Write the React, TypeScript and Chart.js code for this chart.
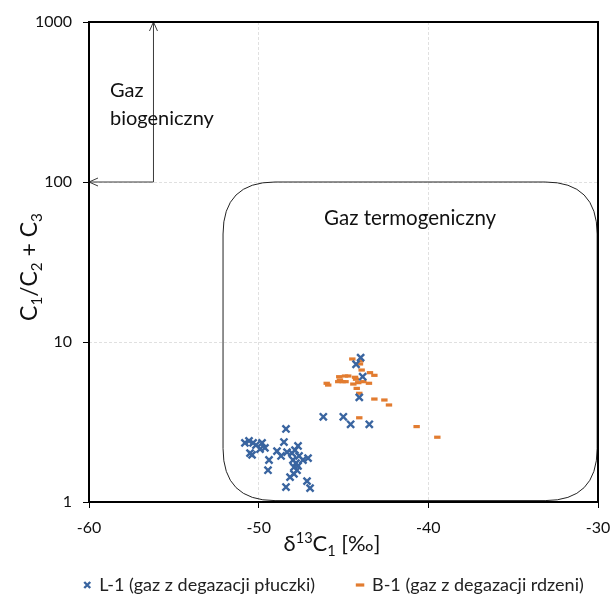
import React, { useEffect, useRef } from 'react';
import { Chart, registerables } from 'chart.js';

Chart.register(...registerables);

// ---- data ----
const seriesNames = ['L-1 (gaz z degazacji płuczki)', 'B-1 (gaz z degazacji rdzeni)'];

const l1X = [-48.39, -48.51, -50.81, -50.57, -50.33, -50.16, -49.8, -49.63, -49.92, -50.51, -50.39, -49.39, -49.45, -48.92, -48.68, -48.33, -48.04, -47.68, -47.86, -47.98, -47.8, -47.92, -47.74, -47.68, -47.39, -47.09, -48.15, -48.39, -47.15, -46.97, -47.62, -47.92, -46.19, -45.01, -44.58, -43.48, -43.99, -44.26, -43.87, -44.07];
const l1Y = [2.86, 2.37, 2.34, 2.41, 2.34, 2.27, 2.34, 2.18, 2.14, 2.02, 1.97, 1.83, 1.58, 2.08, 1.94, 2.05, 2.02, 2.24, 2.11, 1.83, 1.75, 1.65, 1.58, 1.68, 1.83, 1.88, 1.43, 1.24, 1.35, 1.22, 1.94, 1.5, 3.41, 3.41, 3.06, 3.06, 7.98, 7.26, 6.07, 4.51];

const b1X = [-44.48, -43.99, -44.03, -43.93, -43.44, -43.18, -45.99, -45.9, -45.25, -45.21, -45.31, -44.91, -44.72, -45.05, -44.88, -44.32, -44.42, -44.26, -44.13, -43.83, -43.5, -44.22, -44.07, -43.18, -42.59, -42.32, -44.07, -40.69, -39.47];
const b1Y = [7.83, 7.64, 7.29, 6.68, 6.43, 6.19, 5.52, 5.38, 6.07, 5.79, 5.65, 6.13, 6.13, 5.65, 5.65, 6.02, 5.46, 5.85, 5.57, 5.65, 5.52, 5.13, 4.78, 4.4, 4.34, 4.04, 3.36, 2.96, 2.54];

const xTicks = [-60, -50, -40, -30];
const yTicks = [1, 10, 100, 1000];

// annotation regions (data coordinates)
const bioCornerX = -56.2;
const bioCornerY = 100;
const bioTopY = 1000;
const thermoXMin = -52.1;
const thermoXMax = -30.05;
const thermoYMin = 1.02;
const thermoYMax = 100;

const FONT = "Lato, 'Open Sans', sans-serif";
const BLUE = '#3a65a0';
const ORANGE = '#e27c30';

type Seg = { t: string; mode?: 'sub' | 'sup' };

function richWidth(ctx: CanvasRenderingContext2D, segs: Seg[], size: number) {
  let w = 0;
  for (const s of segs) {
    const sz = s.mode ? size * 0.66 : size;
    ctx.font = `${sz}px ${FONT}`;
    w += ctx.measureText(s.t).width;
  }
  return w;
}

function drawRich(ctx: CanvasRenderingContext2D, segs: Seg[], size: number, cx: number, baseY: number) {
  const total = richWidth(ctx, segs, size);
  let x = cx - total / 2;
  ctx.textBaseline = 'alphabetic';
  ctx.textAlign = 'left';
  for (const s of segs) {
    const sz = s.mode ? size * 0.66 : size;
    ctx.font = `${sz}px ${FONT}`;
    const dy = s.mode === 'sub' ? size * 0.22 : s.mode === 'sup' ? -size * 0.36 : 0;
    ctx.fillText(s.t, x, baseY + dy);
    x += ctx.measureText(s.t).width;
  }
}

const overlayPlugin = {
  id: 'overlay',
  afterLayout(chart: any) {
    const lg = chart.legend;
    if (lg) {
      lg.left += 35;
      lg.right += 35;
      lg.top += 4;
      lg.bottom += 4;
    }
    const xs = chart.scales.x;
    if (xs) {
      // give tick labels room (they are clipped to the scale box)
      xs.bottom = xs.top + 40;
      xs.height = 40;
    }
  },
  beforeDatasetsDraw(chart: any) {
    const ctx: CanvasRenderingContext2D = chart.ctx;
    const xs = chart.scales.x;
    const ys = chart.scales.y;
    ctx.save();
    const cx = xs.getPixelForValue(bioCornerX);
    const cy = ys.getPixelForValue(bioCornerY);
    const ty = ys.getPixelForValue(bioTopY);
    const lx = xs.getPixelForValue(-60);
    ctx.strokeStyle = '#3a3a3a';
    ctx.lineWidth = 1;
    ctx.beginPath();
    ctx.moveTo(cx, cy);
    ctx.lineTo(cx, ty);
    ctx.moveTo(cx, cy);
    ctx.lineTo(lx, cy);
    ctx.moveTo(cx - 4, ty + 9);
    ctx.lineTo(cx, ty);
    ctx.lineTo(cx + 4, ty + 9);
    ctx.moveTo(lx + 9, cy - 4);
    ctx.lineTo(lx, cy);
    ctx.lineTo(lx + 9, cy + 4);
    ctx.stroke();

    const rx1 = xs.getPixelForValue(thermoXMin);
    const rx2 = xs.getPixelForValue(thermoXMax);
    const ry1 = ys.getPixelForValue(thermoYMax);
    const ry2 = ys.getPixelForValue(thermoYMin);
    const r = 52;
    ctx.strokeStyle = '#222';
    ctx.beginPath();
    ctx.moveTo(rx1 + r, ry1);
    ctx.lineTo(rx2 - r, ry1);
    ctx.quadraticCurveTo(rx2, ry1, rx2, ry1 + r);
    ctx.lineTo(rx2, ry2 - r);
    ctx.quadraticCurveTo(rx2, ry2, rx2 - r, ry2);
    ctx.lineTo(rx1 + r, ry2);
    ctx.quadraticCurveTo(rx1, ry2, rx1, ry2 - r);
    ctx.lineTo(rx1, ry1 + r);
    ctx.quadraticCurveTo(rx1, ry1, rx1 + r, ry1);
    ctx.stroke();

    ctx.fillStyle = '#111';
    ctx.font = `20px ${FONT}`;
    ctx.textAlign = 'left';
    ctx.textBaseline = 'alphabetic';
    ctx.fillText('Gaz', 110, 97);
    ctx.fillText('biogeniczny', 110, 125);
    ctx.font = `20.5px ${FONT}`;
    ctx.textAlign = 'center';
    ctx.fillText('Gaz termogeniczny', (rx1 + rx2) / 2, 225);
    ctx.restore();
  },
  afterDatasetsDraw(chart: any) {
    const ctx: CanvasRenderingContext2D = chart.ctx;
    const a = chart.chartArea;
    ctx.save();
    ctx.strokeStyle = '#000';
    ctx.lineWidth = 2;
    ctx.strokeRect(a.left, a.top, a.right - a.left, a.bottom - a.top);
    ctx.restore();
  },
  afterDraw(chart: any) {
    const ctx: CanvasRenderingContext2D = chart.ctx;
    ctx.save();
    ctx.fillStyle = '#111';
    drawRich(ctx, [{ t: 'δ' }, { t: '13', mode: 'sup' }, { t: 'C' }, { t: '1', mode: 'sub' }, { t: ' [‰]' }], 22, 332, 551);
    ctx.translate(37, 267);
    ctx.rotate(-Math.PI / 2);
    drawRich(ctx, [{ t: 'C' }, { t: '1', mode: 'sub' }, { t: '/C' }, { t: '2', mode: 'sub' }, { t: ' + C' }, { t: '3', mode: 'sub' }], 23, 0, 0);
    ctx.restore();
  },
};

export default function App() {
  const ref = useRef<HTMLCanvasElement | null>(null);
  useEffect(() => {
    if (!ref.current) return;
    const chart = new Chart(ref.current, {
      type: 'scatter',
      data: {
        datasets: [
          {
            label: seriesNames[0],
            data: l1X.map((x, i) => ({ x, y: l1Y[i] })),
            pointStyle: 'crossRot',
            pointRadius: 5,
            pointHoverRadius: 5,
            borderColor: BLUE,
            backgroundColor: BLUE,
            borderWidth: 2.4,
          },
          {
            label: seriesNames[1],
            data: b1X.map((x, i) => ({ x, y: b1Y[i] })),
            pointStyle: 'line',
            pointRadius: 3.2,
            pointHoverRadius: 3.2,
            borderColor: ORANGE,
            backgroundColor: ORANGE,
            borderWidth: 3.2,
          },
        ],
      },
      options: {
        animation: false,
        responsive: false,
        events: [],
        layout: { padding: { left: 0, right: 14, top: 22, bottom: 0 } },
        plugins: {
          tooltip: { enabled: false },
          legend: {
            position: 'bottom',
            labels: {
              usePointStyle: true,
              boxWidth: 6,
              boxHeight: 6,
              padding: 42,
              color: '#222',
              font: { family: FONT, size: 18 },
            },
          },
        },
        scales: {
          x: {
            type: 'linear',
            min: -60,
            max: -30,
            afterBuildTicks: (s: any) => {
              s.ticks = xTicks.map((v) => ({ value: v }));
            },
            afterFit: (s: any) => {
              s.height = 28;
              s.paddingLeft = 0;
              s.paddingRight = 0;
            },
            ticks: { color: '#111', font: { family: FONT, size: 16 }, padding: 10 },
            grid: { color: '#e0e0e0', tickColor: '#000', tickLength: 6, lineWidth: 1 },
            border: { display: false, dash: [3, 2] },
          },
          y: {
            type: 'logarithmic',
            min: 1,
            max: 1000,
            afterBuildTicks: (s: any) => {
              s.ticks = yTicks.map((v) => ({ value: v }));
            },
            afterFit: (s: any) => {
              s.width = 89;
              s.paddingTop = 0;
              s.paddingBottom = 0;
            },
            ticks: {
              color: '#111',
              font: { family: FONT, size: 16 },
              padding: 11,
              callback: (v: any) => String(v),
            },
            grid: { color: '#e0e0e0', tickColor: '#000', tickLength: 6, lineWidth: 1 },
            border: { display: false, dash: [3, 2] },
          },
        },
      },
      plugins: [overlayPlugin],
    });
    return () => chart.destroy();
  }, []);
  return (
    <div style={{ position: 'fixed', left: 0, top: 0, width: 612, height: 600, background: '#fff' }}>
      <canvas ref={ref} width={612} height={600} />
    </div>
  );
}
